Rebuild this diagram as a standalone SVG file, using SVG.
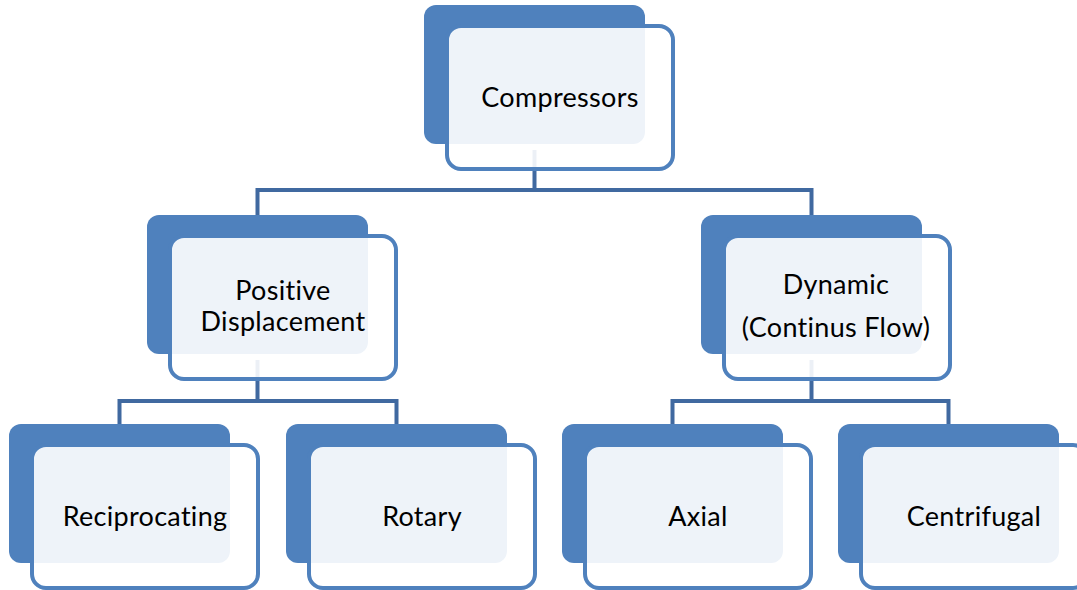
<svg xmlns="http://www.w3.org/2000/svg" width="1077" height="590" viewBox="0 0 1077 590">
<style>
.back{fill:#4f81bd;}
.front{fill:#ffffff;fill-opacity:0.9;stroke:#4f81bd;stroke-width:4;}
.lbl{font-family:Lato,"Liberation Sans",sans-serif;font-size:27px;letter-spacing:0.3px;font-variant-ligatures:none;fill:#000;text-anchor:middle;}
.conn{fill:none;stroke:#4069a0;stroke-width:4;}
</style>
<rect width="1077" height="590" fill="#ffffff"/>
<g id="connectors">
<path class="conn" d="M534.5,150 V190 M257.5,190 H811.5 M257.5,188 V215 M811.5,188 V215"/>
<path class="conn" d="M257.5,360 V401 M119.5,401 H396.5 M119.5,399 V424 M396.5,399 V424"/>
<path class="conn" d="M811.5,360 V401 M672.5,401 H948.5 M672.5,399 V424 M948.5,399 V424"/>
</g>
<g id="compressors">
<rect class="back" x="424" y="5" width="221" height="139" rx="12"/>
<rect class="front" x="447" y="26" width="226" height="143" rx="14"/>
<text class="lbl" x="560" y="107">Compressors</text>
</g>
<g id="positive">
<rect class="back" x="147" y="215" width="221" height="139" rx="12"/>
<rect class="front" x="170" y="236" width="226" height="143" rx="14"/>
<text class="lbl" x="283" y="300">Positive</text>
<text class="lbl" x="283" y="331">Displacement</text>
</g>
<g id="dynamic">
<rect class="back" x="701" y="215" width="221" height="139" rx="12"/>
<rect class="front" x="724" y="236" width="226" height="143" rx="14"/>
<text class="lbl" x="836" y="294">Dynamic</text>
<text class="lbl" x="836" y="337">(Continus Flow)</text>
</g>
<g id="reciprocating">
<rect class="back" x="9" y="424" width="221" height="139" rx="12"/>
<rect class="front" x="32" y="445" width="226" height="143" rx="14"/>
<text class="lbl" x="145" y="526">Reciprocating</text>
</g>
<g id="rotary">
<rect class="back" x="286" y="424" width="221" height="139" rx="12"/>
<rect class="front" x="309" y="445" width="226" height="143" rx="14"/>
<text class="lbl" x="422" y="526">Rotary</text>
</g>
<g id="axial">
<rect class="back" x="562" y="424" width="221" height="139" rx="12"/>
<rect class="front" x="585" y="445" width="226" height="143" rx="14"/>
<text class="lbl" x="698" y="526">Axial</text>
</g>
<g id="centrifugal">
<rect class="back" x="838" y="424" width="221" height="139" rx="12"/>
<rect class="front" x="861" y="445" width="226" height="143" rx="14"/>
<text class="lbl" x="974" y="526">Centrifugal</text>
</g>
</svg>
